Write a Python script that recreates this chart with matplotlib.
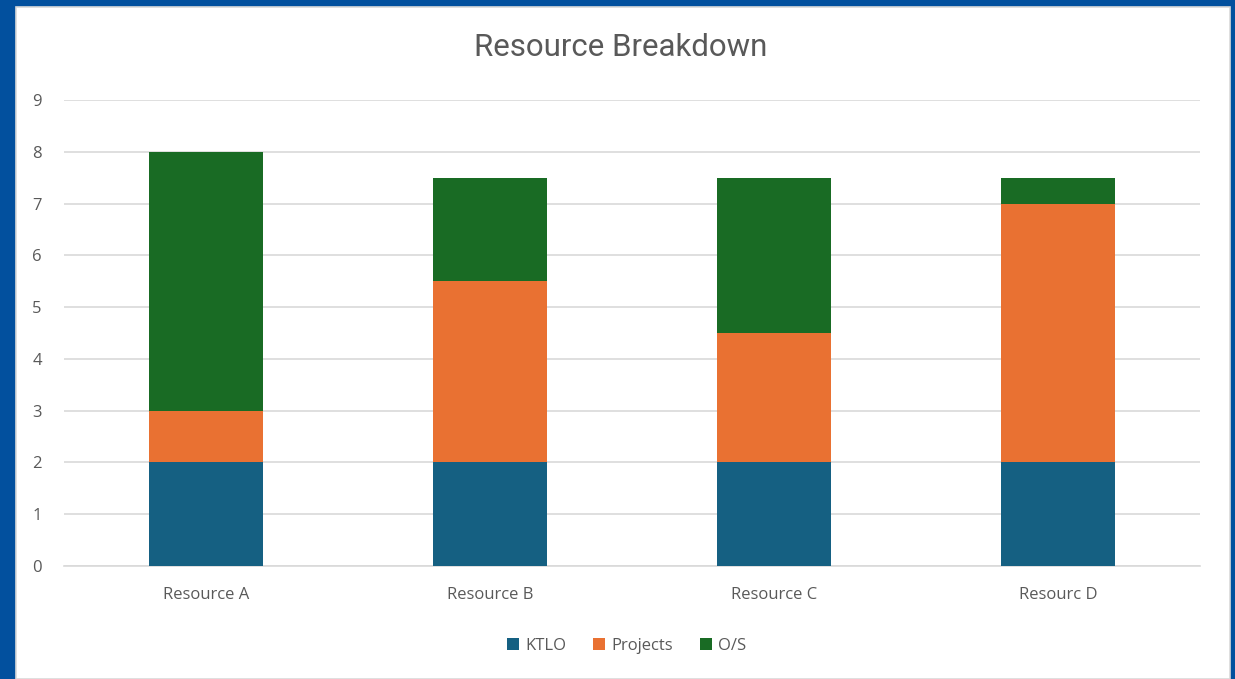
import matplotlib
matplotlib.use("Agg")
import matplotlib.pyplot as plt
from matplotlib.patches import Rectangle, Patch

categories = ["Resource A", "Resource B", "Resource C", "Resourc D"]
ktlo = [2, 2, 2, 2]
projects = [1, 3.5, 2.5, 5]
os_vals = [5, 2, 3, 0.5]
series_names = ["KTLO", "Projects", "O/S"]
colors = ["#156082", "#E97132", "#196B24"]

W, H = 1235, 679
fig = plt.figure(figsize=(W/100, H/100), dpi=100, facecolor="#02509E")
# white chart area
fig.patches.append(Rectangle((16/W, 0), (1230-16)/W, (H-7)/H, transform=fig.transFigure,
                             facecolor="white", edgecolor="#D9D9D9", linewidth=1.2, zorder=-10))

ax = fig.add_axes([64/W, 1-566/H, (1200-64)/W, (566-100)/H], zorder=2)
ax.set_facecolor("none")
x = list(range(len(categories)))
bw = 0.4
ax.bar(x, ktlo, bw, color=colors[0], zorder=3)
ax.bar(x, projects, bw, bottom=ktlo, color=colors[1], zorder=3)
bottom2 = [a + b for a, b in zip(ktlo, projects)]
ax.bar(x, os_vals, bw, bottom=bottom2, color=colors[2], zorder=3)

ax.set_xlim(-0.5, len(categories) - 0.5)
ax.set_ylim(0, 9)
ax.set_yticks(range(0, 10))
ax.yaxis.grid(True, color="#D9D9D9", linewidth=1.2, zorder=0)
ax.set_axisbelow(True)
ax.set_xticks(x)
ax.set_xticklabels(categories)
for s in ["top", "right", "left"]:
    ax.spines[s].set_visible(False)
ax.spines["bottom"].set_color("#D9D9D9")
ax.spines["bottom"].set_linewidth(1.2)
ax.tick_params(axis="both", length=0, colors="#595959", labelsize=12, labelfontfamily="Open Sans")
ax.tick_params(axis="y", pad=16)
ax.tick_params(axis="x", pad=15)

fig.text(621/W, 1-47/H, "Resource Breakdown", ha="center", va="center",
         fontsize=22.5, color="#595959", family="Roboto")

handles = [Patch(facecolor=c, label=n) for c, n in zip(colors, series_names)]
fig.legend(handles=handles, loc="center", bbox_to_anchor=(627/W, 1-646/H), ncol=3,
           frameon=False, prop={"family": "Open Sans", "size": 12}, labelcolor="#595959",
           handlelength=0.7, handleheight=0.7, handletextpad=0.4, columnspacing=1.6)

fig.savefig("out.png", dpi=100, facecolor=fig.get_facecolor())
